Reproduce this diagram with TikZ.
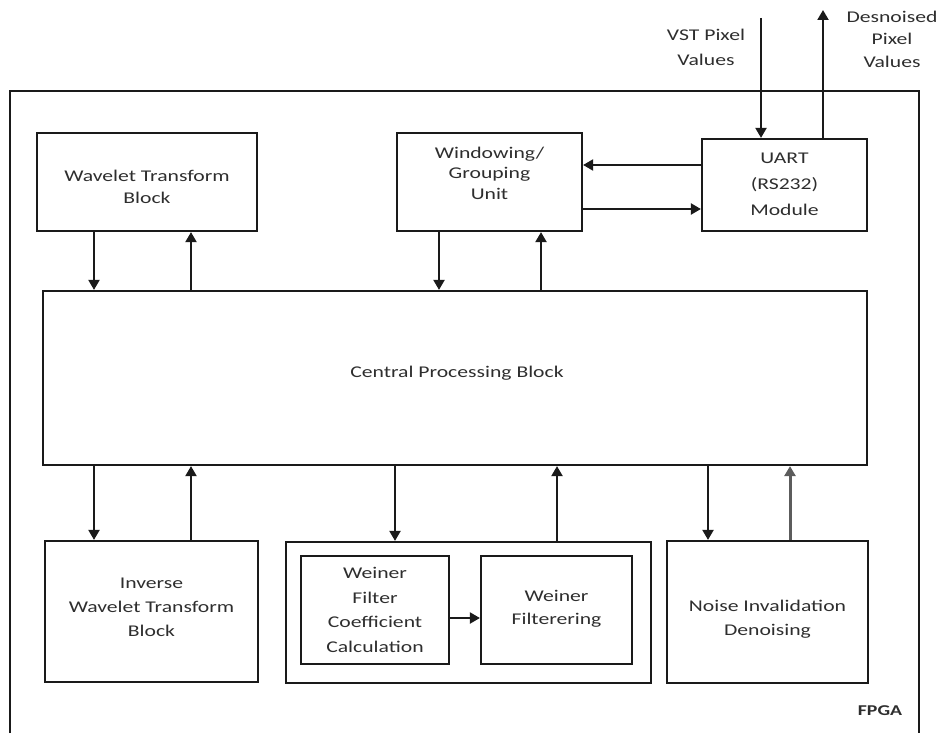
\documentclass[tikz,border=0pt]{standalone}
\usepackage{fontspec}
\setmainfont{Carlito}[FakeStretch=1.32]
\usetikzlibrary{arrows.meta}
\definecolor{linec}{HTML}{1A1A1A}
\definecolor{txtc}{HTML}{2E2E2E}
\definecolor{upgray}{HTML}{5C5C5C}
\tikzset{
  box/.style={draw=linec, line width=2.2pt, inner sep=0pt, fill=none},
  lbl/.style={inner sep=0pt, align=center, text=txtc,
    font=\fontsize{16.4}{#1}\selectfont},
  lbl/.default=23,
  arr/.style={draw=linec, line width=2.1pt,
    -{Triangle[length=10pt,width=11pt]}},
}
\begin{document}
\begin{tikzpicture}[x=1pt,y=-1pt]
\useasboundingbox (0,0) rectangle (941,733);

% FPGA enclosure (runs off the lower edge)
\draw[linec, line width=2.2pt] (10,733) -- (10,91) -- (919,91) -- (919,733);
\node[lbl, font=\fontsize{15}{18}\bfseries] (fpga) at (880,711) {FPGA};

% blocks
\node[box, minimum width=220, minimum height=98] (wt) at (147,182) {};
\node[lbl=22] (wtt) at (147,187) {Wavelet Transform\\Block};

\node[box, minimum width=185, minimum height=98] (win) at (489.5,182) {};
\node[lbl=20.5] (wint) at (489.5,173) {Windowing/\\Grouping\\Unit};

\node[box, minimum width=165, minimum height=92] (uart) at (784.5,185) {};
\node[lbl=26] (uartt) at (784.5,184) {UART\\(RS232)\\Module};

\node[box, minimum width=824, minimum height=174] (cpb) at (455,378) {};
\node[lbl] (cpbt) at (457,373) {Central Processing Block};

\node[box, minimum width=213, minimum height=141] (iwt) at (151.5,611.5) {};
\node[lbl=24] (iwtt) at (151.5,607) {Inverse\\Wavelet Transform\\Block};

\node[box, minimum width=365, minimum height=141] (wo) at (468.5,612.5) {};
\node[box, minimum width=148, minimum height=108] (wc) at (375,610) {};
\node[lbl=24.7] (wct) at (375,610) {Weiner\\Filter\\Coefficient\\Calculation};
\node[box, minimum width=151, minimum height=108] (wf) at (556.5,610) {};
\node[lbl=23] (wft) at (556.5,609) {Weiner\\Filterering};

\node[box, minimum width=201, minimum height=142] (nid) at (767.5,612) {};
\node[lbl=24] (nidt) at (767.5,619) {Noise Invalidation\\Denoising};

% external I/O labels
\node[lbl=25] (vst) at (706,47) {VST Pixel\\Values};
\node[lbl=22.5] (dns) at (892,39) {Desnoised\\Pixel\\Values};
\coordinate (vstin) at (761,18);
\coordinate (dnsout) at (823,10);

% external connections
\draw[arr] (vstin) -- (uart.north -| vstin);
\draw[arr] (uart.north -| dnsout) -- (dnsout);

% UART <-> windowing
\draw[arr] (uart.west |- 0,165) -- (win.east |- 0,165);
\draw[arr] (win.east |- 0,209) -- (uart.west |- 0,209);

% upper blocks <-> central block
\draw[arr] (wt.south -| 94,0) -- (cpb.north -| 94,0);
\draw[arr] (cpb.north -| 191,0) -- (wt.south -| 191,0);
\draw[arr] (win.south -| 439,0) -- (cpb.north -| 439,0);
\draw[arr] (cpb.north -| 541,0) -- (win.south -| 541,0);

% central block <-> lower blocks
\draw[arr] (cpb.south -| 94,0) -- (iwt.north -| 94,0);
\draw[arr] (iwt.north -| 191,0) -- (cpb.south -| 191,0);
\draw[arr] (cpb.south -| 395,0) -- (wo.north -| 395,0);
\draw[arr] (wo.north -| 557,0) -- (cpb.south -| 557,0);
\draw[arr] (cpb.south -| 708,0) -- (nid.north -| 708,0);
\draw[arr, draw=upgray, line width=3pt] (nid.north -| 790,0) -- (cpb.south -| 790,0);

% inside the Weiner stage
\draw[arr] (wc.east |- 0,618) -- (wf.west |- 0,618);
\end{tikzpicture}
\end{document}
